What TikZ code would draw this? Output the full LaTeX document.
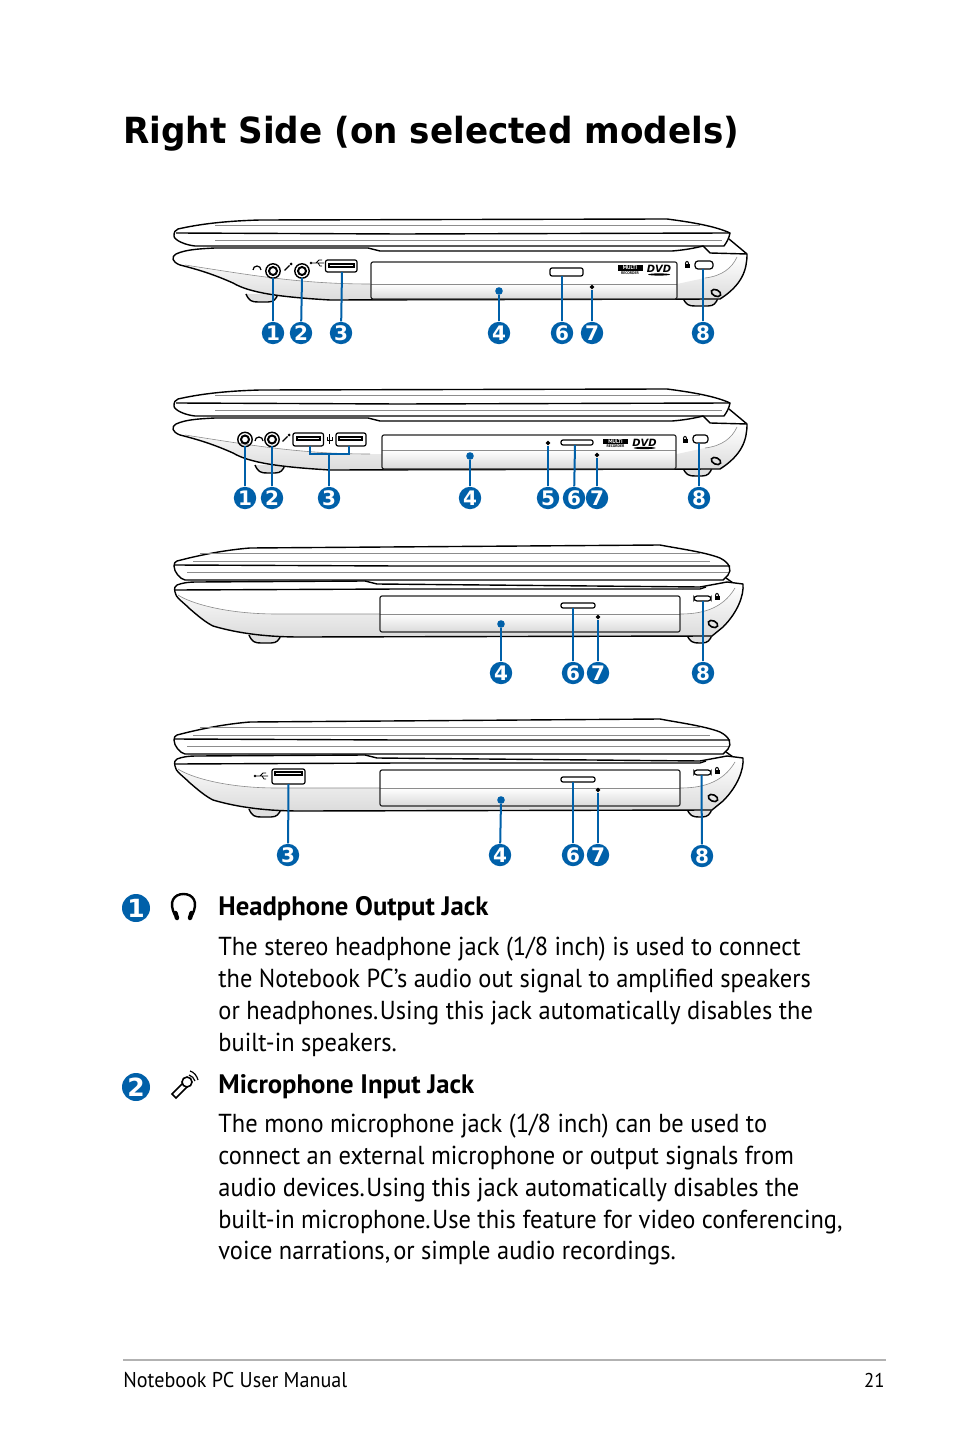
\documentclass[tikz,border=0pt]{standalone}
\usepackage{fontspec}
\usetikzlibrary{calc}
\setmainfont{PT Sans}
\newfontfamily\bodyfont[FakeStretch=0.94]{PT Sans}
\newfontfamily\titlefont[FakeStretch=0.95]{DejaVu Sans}
\newfontfamily\numfont{DejaVu Sans}
\definecolor{numblue}{RGB}{0,96,169}
\pgfdeclarelayer{edgelayer}
\pgfdeclarelayer{nodelayer}
\pgfsetlayers{edgelayer,main,nodelayer}
\tikzstyle{none}=[inner sep=0mm]
\tikzstyle{numdot}=[shape=circle,fill=numblue,text=white,inner sep=0pt,minimum size=11.2pt,font=\numfont\bfseries\fontsize{10}{10}\selectfont]
\tikzstyle{bignum}=[numdot,minimum size=14pt,font=\numfont\bfseries\fontsize{12.5}{12.5}\selectfont]
\tikzstyle{pin}=[shape=circle,fill=numblue,inner sep=0pt,minimum size=3.8pt]
\tikzstyle{pinhole}=[shape=diamond,fill=black,inner sep=0pt,minimum size=2.6pt]
\tikzstyle{leader}=[numblue,line width=1pt]
\tikzstyle{thinleader}=[numblue,line width=0.6pt]
\tikzstyle{hull}=[draw=black,line width=0.7pt,line join=round]
\tikzstyle{crease}=[black!45,line width=0.3pt]
\tikzstyle{hard}=[black,line width=0.7pt]
\tikzstyle{port}=[draw=black,line width=0.6pt,rounded corners=1pt,fill=white]
\tikzstyle{bay}=[draw=black!85,line width=0.6pt,rounded corners=1pt]
\tikzstyle{lowshade}=[top color=white,bottom color=black!14]
\tikzstyle{heading}=[anchor=base west,inner sep=0pt,font=\bfseries\fontsize{13.35}{13.35}\selectfont]
\tikzstyle{bodytext}=[anchor=north west,inner sep=0pt,align=left,font=\bodyfont\fontsize{13}{15.85}\selectfont]
\tikzstyle{foot}=[inner sep=0pt,font=\bodyfont\fontsize{10.7}{10.7}\selectfont]
\tikzstyle{multibox}=[fill=black,text=white,inner sep=0.15pt,font=\bfseries\fontsize{2.7}{2.7}\selectfont]
\tikzstyle{recorder}=[inner sep=0pt,font=\bfseries\fontsize{1.9}{1.9}\selectfont]
\tikzstyle{dvdmark}=[inner sep=0pt,font=\numfont\bfseries\itshape\fontsize{5}{5}\selectfont]
\usetikzlibrary{shapes.geometric}

% lid and base, wedge shaped
\newcommand{\lidwedge}{
	\draw [style=hull,fill=white] (178,229) .. controls (200,224) and (225,221) .. (260,220) -- (667,219) .. controls (690,222) and (715,226) .. (730,233) .. controls (729,238) and (727,242) .. (724,246) -- (195,246) .. controls (185,245) and (174,240) .. (174,236) .. controls (174,232) and (175,230) .. (178,229) -- cycle;
	\draw [style=hard] (176,233) -- (400,234) -- (730,233);
	\draw [style=crease] (215,225) -- (700,225);
	\draw [style=crease] (215,240) -- (722,240);
}
\newcommand{\wedgeoutline}{(176,254) .. controls (185,250) and (195,249) .. (215,248) -- (368,248) -- (380,251) -- (672,251) .. controls (685,250) and (695,248) .. (703,246) -- (710,253) -- (747,254) .. controls (747,270) and (742,285) .. (720,299) -- (330,300) .. controls (280,297) and (250,293) .. (233,283) .. controls (215,275) and (200,270) .. (180,265) .. controls (172,262) and (171,257) .. (176,254) -- cycle}
\newcommand{\basewedge}{
	\draw [style=hard] (729,239) -- (747,254);
	\fill [white] \wedgeoutline;
	\shade [style=lowshade] (185,266) .. controls (250,275) and (300,284) .. (370,284) -- (677,284) -- (705,278) .. controls (722,276) and (732,268) .. (737,257) -- (747,255) .. controls (747,270) and (742,285) .. (720,299) -- (330,300) .. controls (280,297) and (250,293) .. (233,283) .. controls (215,275) and (200,270) .. (185,266) -- cycle;
	\draw [style=crease] (185,265) .. controls (250,275) and (300,284) .. (370,284);
	\draw [style=crease] (737,257) .. controls (732,268) and (722,276) .. (705,278);
	\draw [style=hull] \wedgeoutline;
}
% lid and base, round shaped
\newcommand{\lidround}{
	\draw [style=hull,fill=white] (177,561) .. controls (200,555) and (225,550) .. (250,548) -- (660,545) .. controls (675,548) and (705,552) .. (720,558) .. controls (730,563) and (732,570) .. (728,575) -- (723,580) -- (185,580) .. controls (180,579) and (174,572) .. (174,566) .. controls (174,563) and (175,562) .. (177,561) -- cycle;
	\draw [style=hard] (174,565) -- (400,566) -- (730,566);
	\draw [style=crease] (200,553) -- (700,553);
	\draw [style=crease] (193,561) -- (710,561);
	\draw [style=crease] (187,572) -- (728,572);
}
\newcommand{\roundoutline}{(177,585) .. controls (182,583) and (188,582) .. (197,582) -- (365,581) -- (377,584) -- (700,587) -- (727,582) -- (743,584) .. controls (744,595) and (738,612) .. (723,627) -- (712,636) -- (300,637) .. controls (270,637) and (240,634) .. (213,626) .. controls (205,622) and (197,615) .. (190,609) .. controls (183,602) and (175,597) .. (175,592) .. controls (174,588) and (175,586) .. (177,585) -- cycle}
\newcommand{\baseround}{
	\draw [style=hard] (726,578) -- (733,583);
	\fill [white] \roundoutline;
	\shade [style=lowshade] (178,595) .. controls (190,603) and (225,614) .. (277,614) -- (680,614) .. controls (700,614) and (722,610) .. (735,588) -- (743,585) .. controls (744,595) and (738,612) .. (723,627) -- (712,636) -- (300,637) .. controls (270,637) and (240,634) .. (213,626) .. controls (205,622) and (197,615) .. (190,609) -- cycle;
	\draw [style=crease] (178,595) .. controls (190,603) and (225,614) .. (277,614) -- (380,614);
	\draw [style=crease] (680,614) .. controls (700,614) and (722,610) .. (735,588);
	\draw [style=hull] \roundoutline;
	\draw [style=hard] (175,590) -- (400,589) -- (700,589) -- (706,587);
}
% feet: x left, y top, x right
\newcommand{\footpad}[3]{
	\draw [style=hull,fill=black!12] (#1,#2) .. controls (#1+3,#2+7) and (#1+6,#2+8) .. (#1+12,#2+8) -- (#3-10,#2+8) .. controls (#3-4,#2+8) and (#3-2,#2+5) .. (#3,#2);
}
\newcommand{\lockmark}[3]{
	\fill (#2-2.5,#3) rectangle (#2+2.5,#3+4);
	\draw [line width=0.5pt] (#2-1.6,#3) arc (180:360:1.6 and 2.6);
	\node [style=none] (#1) at (#2,#3) {};
}
\newcommand{\ovalmark}[2]{
	\draw [black,line width=0.8pt] (#1,#2) ellipse [x radius=5,y radius=3.2,rotate=-25];
}
\newcommand{\usbmark}[2]{
	\draw [line width=0.4pt] (#1-6,#2) -- (#1+6,#2) (#1-2,#2) -- (#1+1,#2-3) -- (#1+4,#2-3) (#1,#2) -- (#1+2,#2+3) -- (#1+4,#2+3);
	\fill (#1-7,#2) circle (1.3);
}
\newcommand{\micmark}[2]{
	\draw [line width=0.7pt] (#1-3.5,#2+3.5) -- (#1+1.5,#2-1.5);
	\fill (#1+3,#2-3) circle (1.5);
}
\newcommand{\jackmark}[2]{
	\draw [line width=0.7pt] (#1,#2) circle (7.2);
	\draw [line width=1pt] (#1,#2) circle (4);
}
\newcommand{\logomark}[3]{
	\node [style=multibox,minimum width=12.5pt,minimum height=2.6pt] (#1m) at (#2,#3) {MULTI};
	\node [style=recorder] (#1r) at (#2,#3+5) {RECORDER};
	\node [style=dvdmark] (#1d) at (#2+29,#3+1) {DVD};
	\fill (#2+29,#3+6.5) ellipse [x radius=11,y radius=1.1];
}

\begin{document}
\begin{tikzpicture}[x=0.5pt,y=-0.5pt]
	\useasboundingbox (0,0) rectangle (954,1438);
	\node [anchor=base west,inner sep=0pt,font=\titlefont\bfseries\fontsize{18}{18}\selectfont] (title) at (123,144) {Right Side (on selected models)};

	\begin{pgfonlayer}{edgelayer}
		\footpad{246}{294}{278}
		\footpad{683}{298}{718}
		\footpad{255}{465}{285}
		\footpad{683}{468}{712}
		\footpad{249}{635}{281}
		\footpad{687}{635}{712}
		\footpad{249}{809}{281}
		\footpad{687}{809}{712}
	\end{pgfonlayer}

	% first model
	\lidwedge
	\basewedge
	\fill [white] (371,262) rectangle (677,299);
	\shade [style=lowshade] (372,284) rectangle (676,298);
	\draw [style=crease] (371,284) -- (677,284);
	\draw [style=bay] (371,262) rectangle (677,299);
	\draw [style=port] (550,268) rectangle (583,276);
	\draw [style=port,rounded corners=1.5pt] (695,261) rectangle (713,269);
	\draw [style=port] (325.5,260) rectangle (357,272);
	\draw [style=port,rounded corners=0pt] (329,264) rectangle (354,267);
	\jackmark{273}{271}
	\jackmark{302}{271}
	\draw [line width=0.6pt] (253,270) arc (180:360:4);
	\micmark{288}{267}
	\usbmark{318}{263}
	\logomark{la}{630}{268}
	\lockmark{lka}{687}{264}
	\ovalmark{716}{293}

	% second model
	\begin{scope}[yshift=-85pt]
		\lidwedge
		\basewedge
	\end{scope}
	\fill [white] (382,435) rectangle (676,469);
	\shade [style=lowshade] (383,450) rectangle (675,468);
	\draw [style=crease] (382,450) -- (676,450);
	\draw [style=bay] (382,435) rectangle (676,469);
	\draw [style=port] (561,440) rectangle (593,445);
	\draw [style=port,rounded corners=1.5pt] (693,435) rectangle (708,443);
	\draw [style=port] (293,433) rectangle (323.5,446);
	\draw [style=port] (336,433) rectangle (366,446);
	\draw [style=port,rounded corners=0pt] (297,437) rectangle (320,440);
	\draw [style=port,rounded corners=0pt] (339,437) rectangle (362,440);
	\jackmark{245}{439.5}
	\jackmark{272}{439.5}
	\draw [line width=0.6pt] (255,441) arc (180:360:4);
	\micmark{286}{438}
	\draw [line width=0.4pt] (329.5,434) -- (329.5,444) (327,437) -- (327,440) -- (332,440) -- (332,437);
	\logomark{lb}{615.5}{441.5}
	\lockmark{lkb}{685}{439}
	\ovalmark{716}{461}

	% third model
	\lidround
	\baseround
	\fill [white] (380,596) rectangle (680,632);
	\shade [style=lowshade] (381,614) rectangle (679,631);
	\draw [style=crease] (380,614) -- (680,614);
	\draw [style=bay] (380,596) rectangle (680,632);
	\draw [style=port] (561,603) rectangle (595,608);
	\draw [style=port,rounded corners=1.5pt] (694,596) rectangle (711,601);
	\lockmark{lkc}{717}{596}
	\ovalmark{713}{624}

	% fourth model
	\begin{scope}[yshift=-87pt]
		\lidround
		\baseround
	\end{scope}
	\fill [white] (380,770) rectangle (680,806);
	\shade [style=lowshade] (381,788) rectangle (679,805);
	\draw [style=crease] (380,788) -- (680,788);
	\draw [style=bay] (380,770) rectangle (680,806);
	\draw [style=port] (561,777) rectangle (595,782);
	\draw [style=port,rounded corners=1.5pt] (694,770) rectangle (711,775);
	\draw [style=port] (272,769) rectangle (305,784);
	\draw [style=port,rounded corners=0pt] (275,772) rectangle (302,775);
	\usbmark{262}{776}
	\lockmark{lkd}{717}{770}
	\ovalmark{713}{798}

	% callouts
	\begin{pgfonlayer}{nodelayer}
		\node [style=numdot] (a1) at (273, 333) {1};
		\node [style=numdot] (a2) at (301, 333) {2};
		\node [style=numdot] (a3) at (341, 333) {3};
		\node [style=numdot] (a4) at (499, 333) {4};
		\node [style=numdot] (a6) at (562, 333) {6};
		\node [style=numdot] (a7) at (592, 333) {7};
		\node [style=numdot] (a8) at (703, 333) {8};
		\node [style=pin] (a4p) at (499, 291) {};
		\node [style=pinhole] (a7p) at (592, 287) {};
		\node [style=numdot] (b1) at (245, 498) {1};
		\node [style=numdot] (b2) at (272, 498) {2};
		\node [style=numdot] (b3) at (329, 498) {3};
		\node [style=numdot] (b4) at (470, 498) {4};
		\node [style=numdot] (b5) at (548, 498) {5};
		\node [style=numdot] (b6) at (574, 498) {6};
		\node [style=numdot] (b7) at (597, 498) {7};
		\node [style=numdot] (b8) at (699, 498) {8};
		\node [style=pin] (b4p) at (470, 456) {};
		\node [style=pinhole] (b5p) at (548, 443) {};
		\node [style=pinhole] (b7p) at (597, 455) {};
		\node [style=numdot] (c4) at (501, 673) {4};
		\node [style=numdot] (c6) at (573, 673) {6};
		\node [style=numdot] (c7) at (598, 673) {7};
		\node [style=numdot] (c8) at (703, 673) {8};
		\node [style=pin] (c4p) at (501, 624) {};
		\node [style=pinhole] (c7p) at (598, 617) {};
		\node [style=numdot] (d3) at (288, 855) {3};
		\node [style=numdot] (d4) at (500, 855) {4};
		\node [style=numdot] (d6) at (573, 855) {6};
		\node [style=numdot] (d7) at (598, 855) {7};
		\node [style=numdot] (d8) at (702, 856) {8};
		\node [style=pin] (d4p) at (501, 800) {};
		\node [style=pinhole] (d7p) at (598, 790) {};
		\node [style=none] (a1t) at (273, 278) {};
		\node [style=none] (a2t) at (302, 278) {};
		\node [style=none] (a3t) at (342, 272) {};
		\node [style=none] (a6t) at (562, 276) {};
		\node [style=none] (a8t) at (703, 269) {};
		\node [style=none] (b1t) at (245, 446) {};
		\node [style=none] (b2t) at (272, 446) {};
		\node [style=none] (b3t) at (329, 454) {};
		\node [style=none] (b3l) at (310, 446) {};
		\node [style=none] (b3r) at (349, 446) {};
		\node [style=none] (b6t) at (575, 445) {};
		\node [style=none] (b8t) at (699, 443) {};
		\node [style=none] (c6t) at (573, 608) {};
		\node [style=none] (c8t) at (703, 601) {};
		\node [style=none] (d3t) at (288.5, 784) {};
		\node [style=none] (d6t) at (573, 782) {};
		\node [style=none] (d8t) at (701.5, 775) {};
	\end{pgfonlayer}
	\draw [style=leader] (a1) to (a1t.center);
	\draw [style=leader] (a2) to (a2t.center);
	\draw [style=leader] (a3) to (a3t.center);
	\draw [style=leader] (a4) to (a4p);
	\draw [style=leader] (a6) to (a6t.center);
	\draw [style=thinleader] (a7) to (a7p);
	\draw [style=leader] (a8) to (a8t.center);
	\draw [style=thinleader] (b1) to (b1t.center);
	\draw [style=thinleader] (b2) to (b2t.center);
	\draw [style=thinleader] (b3) to (b3t.center);
	\draw [style=thinleader] (b3l.center) |- (b3t.center) -| (b3r.center);
	\draw [style=leader] (b4) to (b4p);
	\draw [style=thinleader] (b5) to (b5p);
	\draw [style=leader] (b6) to (b6t.center);
	\draw [style=thinleader] (b7) to (b7p);
	\draw [style=leader] (b8) to (b8t.center);
	\draw [style=leader] (c4) to (c4p);
	\draw [style=leader] (c6) to (c6t.center);
	\draw [style=leader] (c7) to (c7p);
	\draw [style=leader] (c8) to (c8t.center);
	\draw [style=leader] (d3) to (d3t.center);
	\draw [style=leader] (d4) to (d4p);
	\draw [style=leader] (d6) to (d6t.center);
	\draw [style=leader] (d7) to (d7p);
	\draw [style=leader] (d8) to (d8t.center);

	% entries
	\node [style=bignum] (e1) at (136, 908) {1};
	\draw [line width=1.2pt] (175,915) .. controls (168,902) and (174,894) .. (183.5,894) .. controls (193,894) and (199,902) .. (192,915);
	\draw [line width=2.2pt,line cap=round] (175.5,913) -- (177,918);
	\draw [line width=2.2pt,line cap=round] (191.5,913) -- (190,918);
	\node [style=heading] (h1) at (218, 915.5) {Headphone Output Jack};
	\node [style=bodytext] (t1) at (218, 937) {The stereo headphone jack (1/8 inch) is used to connect\\the Notebook PC’s audio out signal to amplified speakers\\or headphones.\hspace{0.8pt}Using this jack automatically disables the\\built-in speakers.};

	\node [style=bignum] (e2) at (136, 1087) {2};
	\draw [line width=0.8pt,fill=white] (172,1094) -- (183,1083) -- (187,1087) -- (176,1098) -- cycle;
	\draw [line width=0.8pt,fill=white] (187,1082) circle (5);
	\draw [line width=0.6pt] (189,1075) .. controls (192,1076) and (194,1078) .. (195,1081);
	\draw [line width=0.6pt] (190,1071) .. controls (194,1072) and (197,1076) .. (198,1080);
	\node [style=heading] (h2) at (218, 1093.5) {Microphone Input Jack};
	\node [style=bodytext] (t2) at (218, 1114) {The mono microphone jack (1/8 inch) can be used to\\connect an external microphone or output signals from\\audio devices.\hspace{0.8pt}Using this jack automatically disables the\\built-in microphone.\hspace{0.8pt}Use this feature for video conferencing,\\voice narrations,\hspace{1.5pt}or simple audio recordings.};

	\draw [black!30,line width=1.3pt] (123,1360) -- (886,1360);
	\node [style=foot,anchor=base west] (f1) at (123, 1387) {Notebook PC User Manual};
	\node [style=foot,anchor=base east,font=\bodyfont\fontsize{10}{10}\selectfont] (f2) at (885, 1387) {21};
\end{tikzpicture}
\end{document}
